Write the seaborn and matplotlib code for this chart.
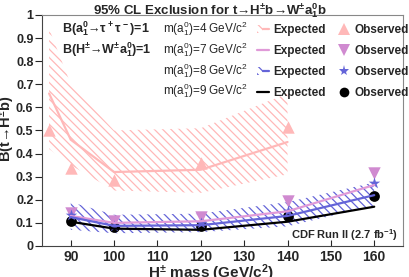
import numpy as np
import pandas as pd
import matplotlib
matplotlib.use("Agg")
import matplotlib.pyplot as plt
import seaborn as sns
from matplotlib.patches import Patch
from matplotlib.lines import Line2D
from matplotlib.legend_handler import HandlerTuple


## values
mass_4 = [85, 90, 100, 120, 140]
exp_4 = [0.66, 0.46, 0.32, 0.33, 0.45]
exp_4_lo = [0.42, 0.35, 0.24, 0.23, 0.31]
exp_4_hi = [0.94, 0.70, 0.50, 0.51, 0.66]
obs_4 = [0.50, 0.338, 0.285, 0.36, 0.516]

mass = [90, 100, 120, 140, 160]
exp_7 = [0.13, 0.10, 0.107, 0.15, 0.264]
obs_7 = [0.143, 0.108, 0.126, 0.196, 0.315]
exp_8 = [0.125, 0.087, 0.09, 0.13, 0.22]
exp_8_lo = [0.07, 0.055, 0.06, 0.085, 0.175]
exp_8_hi = [0.19, 0.135, 0.14, 0.19, 0.275]
obs_8 = [0.134, 0.086, 0.10, 0.153, 0.274]
exp_9 = [0.105, 0.075, 0.07, 0.105, 0.17]
obs_9 = [0.108, 0.08, 0.085, 0.131, 0.216]

a_masses = ["4", "7", "8", "9"]
x_ticks = [90, 100, 110, 120, 130, 140, 150, 160]
y_ticks = [0, 0.1, 0.2, 0.3, 0.4, 0.5, 0.6, 0.7, 0.8, 0.9, 1]

PINK = "#ffb8b8"
VIOLET = "#d08ad0"
VIOLET_LINE = "#e09ad8"
BLUE = "#6464d8"
HATCH = "\\\\\\\\"

sns.set_style("ticks")
plt.rcParams["font.family"] = ["Liberation Sans", "DejaVu Sans"]
plt.rcParams["font.weight"] = "bold"
plt.rcParams["mathtext.default"] = "regular"
plt.rcParams["hatch.linewidth"] = 0.9

df4 = pd.DataFrame({"mass": mass_4, "exp": exp_4, "lo": exp_4_lo, "hi": exp_4_hi, "obs": obs_4})
df = pd.DataFrame({"mass": mass, "exp7": exp_7, "obs7": obs_7, "exp8": exp_8,
                   "lo8": exp_8_lo, "hi8": exp_8_hi, "obs8": obs_8,
                   "exp9": exp_9, "obs9": obs_9})

fig = plt.figure(figsize=(4.09, 2.77), dpi=100)
ax = fig.add_axes([0.102, 0.112, 0.884, 0.834])

# hatched expected bands
ax.fill_between(df4["mass"], df4["lo"], df4["hi"], facecolor="none", edgecolor=PINK,
                hatch=HATCH, linewidth=0)
ax.fill_between(df["mass"], df["lo8"], df["hi8"], facecolor="none", edgecolor=BLUE,
                hatch=HATCH, linewidth=0)

# expected lines
sns.lineplot(data=df4, x="mass", y="exp", color=PINK, lw=1.6, ax=ax)
sns.lineplot(data=df, x="mass", y="exp7", color=VIOLET_LINE, lw=1.6, ax=ax)
sns.lineplot(data=df, x="mass", y="exp8", color=BLUE, lw=1.6, ax=ax)
sns.lineplot(data=df, x="mass", y="exp9", color="black", lw=1.6, ax=ax)

# observed points
sns.scatterplot(data=df4, x="mass", y="obs", marker="^", s=80, color=PINK, linewidth=0, ax=ax)
sns.scatterplot(data=df, x="mass", y="obs7", marker="v", s=80, color=VIOLET, linewidth=0, ax=ax)
sns.scatterplot(data=df, x="mass", y="obs9", marker="o", s=60, color="black", linewidth=0, ax=ax)
sns.scatterplot(data=df, x="mass", y="obs8", marker="*", s=75, color=BLUE, linewidth=0, ax=ax)

ax.set_xlim(83.3, 166.7)
ax.set_ylim(0, 1)
ax.set_xticks(x_ticks)
ax.set_yticks(y_ticks)
ax.set_yticklabels(["%g" % v for v in y_ticks])
ax.tick_params(axis="x", direction="in", length=4, labelsize=10, pad=3)
ax.tick_params(axis="y", direction="out", length=5, labelsize=9, pad=1)
for side in ["top", "right"]:
    ax.spines[side].set_color("#888888")
for side in ["left", "bottom"]:
    ax.spines[side].set_color("#444444")

ax.set_xlabel(r"H$^{\pm}$ mass (GeV/c$^{2}$)", fontsize=11, fontweight="bold")
ax.xaxis.set_label_coords(0.469, -0.072)
ax.xaxis.label.set_va("top")
ax.set_ylabel(r"B(t→H$^{\pm}$b)", fontsize=10.5, fontweight="bold")
ax.yaxis.set_label_coords(-0.069, 0.51)
fig.text(0.513, 0.963, r"95% CL Exclusion for t→H$^{\pm}$b→W$^{\pm}$a$_1^0$b",
         ha="center", va="center", fontsize=9.5, fontweight="bold")

ax.text(0.056, 0.939, r"B(a$_1^0$→τ$^+$τ$^-$)=1", transform=ax.transAxes,
        fontsize=9, fontweight="bold", va="center")
ax.text(0.056, 0.848, r"B(H$^{\pm}$→W$^{\pm}$a$_1^0$)=1", transform=ax.transAxes,
        fontsize=9, fontweight="bold", va="center")
row_y = [0.939, 0.848, 0.758, 0.671]
for m, yy in zip(a_masses, row_y):
    ax.text(0.336, yy, r"m(a$_1^0$)=%s GeV/c$^2$" % m, transform=ax.transAxes,
            fontsize=8.5, fontweight="normal", va="center")

ax.text(0.985, 0.045, r"CDF Run II (2.7 fb$^{-1}$)", transform=ax.transAxes,
        fontsize=8, fontweight="bold", ha="right", va="center")

# legend: expected / observed columns
exp_handles = [
    (Patch(facecolor="none", edgecolor=PINK, hatch=HATCH, linewidth=0), Line2D([], [], color=PINK, lw=1.6)),
    Line2D([], [], color=VIOLET_LINE, lw=1.6),
    (Patch(facecolor="none", edgecolor=BLUE, hatch=HATCH, linewidth=0), Line2D([], [], color=BLUE, lw=1.6)),
    Line2D([], [], color="black", lw=1.6),
]
obs_handles = [
    Line2D([], [], ls="", marker="^", ms=8, color=PINK, mew=0),
    Line2D([], [], ls="", marker="v", ms=8, color=VIOLET, mew=0),
    Line2D([], [], ls="", marker="*", ms=8, color=BLUE, mew=0),
    Line2D([], [], ls="", marker="o", ms=7, color="black", mew=0),
]
ax.legend(exp_handles + obs_handles, ["Expected"] * 4 + ["Observed"] * 4, ncol=2,
          handler_map={tuple: HandlerTuple(ndivide=None, pad=0)},
          loc="upper left", bbox_to_anchor=(0.596, 0.96), frameon=False,
          borderpad=0, borderaxespad=0, handlelength=1.0, handletextpad=0.4,
          columnspacing=1.0, labelspacing=0.75,
          prop={"size": 8.5, "weight": "bold"})

fig.savefig("out.png", dpi=100)
